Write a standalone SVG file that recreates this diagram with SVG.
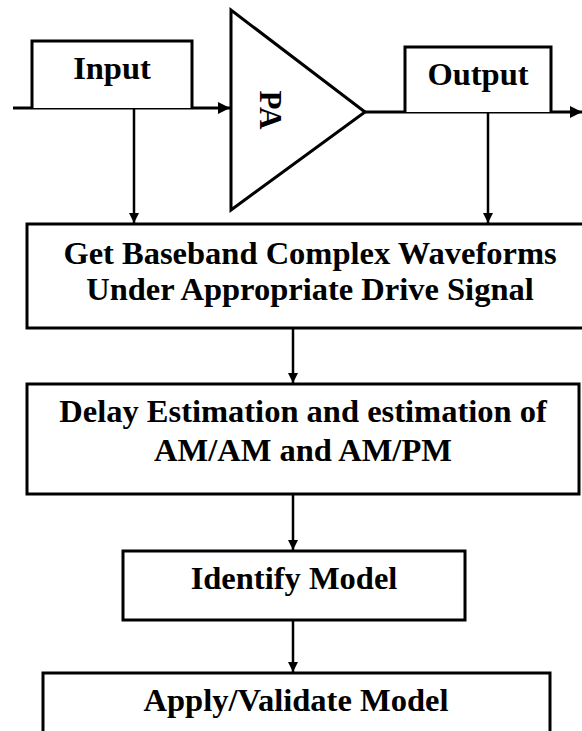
<svg xmlns="http://www.w3.org/2000/svg" width="582" height="731" viewBox="0 0 582 731">
  <style>
    .box { fill: #fff; stroke: #000; stroke-width: 3; }
    .wire { stroke: #000; stroke-width: 2.5; fill: none; }
    .lbl { font-family: "Liberation Serif", "Times New Roman", serif; font-weight: bold; font-size: 32.5px; fill: #000; text-anchor: middle; }
  </style>
  <defs>
    <marker id="arrow" viewBox="0 0 10 10" refX="10" refY="5" markerWidth="4" markerHeight="4" orient="auto" markerUnits="strokeWidth">
      <path d="M0,0 L10,5 L0,10 z" fill="#000"/>
    </marker>
  </defs>
  <rect width="582" height="731" fill="#fff"/>

  <!-- signal path and flow connectors -->
  <g id="connectors">
    <line class="wire" x1="13" y1="108" x2="230" y2="108" marker-end="url(#arrow)" style="stroke-width:3"/>
    <line class="wire" x1="365" y1="112" x2="582" y2="112" marker-end="url(#arrow)" style="stroke-width:3"/>
    <line class="wire" x1="134" y1="108" x2="134" y2="223" marker-end="url(#arrow)"/>
    <line class="wire" x1="488" y1="112" x2="488" y2="223" marker-end="url(#arrow)"/>
    <line class="wire" x1="293" y1="328" x2="293" y2="383" marker-end="url(#arrow)"/>
    <line class="wire" x1="293" y1="494" x2="293" y2="550" marker-end="url(#arrow)"/>
    <line class="wire" x1="293" y1="620" x2="293" y2="672" marker-end="url(#arrow)"/>
  </g>

  <g id="input">
    <path class="box" d="M32,108 V41 H192 V108"/>
    <text class="lbl" x="112" y="79">Input</text>
  </g>

  <g id="pa">
    <polygon class="box" points="231,10 231,210 365,112"/>
    <text class="lbl" transform="translate(260,110) rotate(90)" x="0" y="0" style="font-size:31px">PA</text>
  </g>

  <g id="output">
    <path class="box" d="M405,112 V47 H551 V112"/>
    <text class="lbl" x="478" y="85">Output</text>
  </g>

  <g id="capture">
    <rect class="box" x="27" y="224" width="570" height="104"/>
    <text class="lbl" x="310" y="264">Get Baseband Complex Waveforms</text>
    <text class="lbl" x="310" y="300">Under Appropriate Drive Signal</text>
  </g>

  <g id="estimate">
    <rect class="box" x="27" y="384" width="552" height="110"/>
    <text class="lbl" x="303" y="422">Delay Estimation and estimation of</text>
    <text class="lbl" x="303" y="461">AM/AM and AM/PM</text>
  </g>

  <g id="identify">
    <rect class="box" x="123" y="551" width="342" height="69"/>
    <text class="lbl" x="294" y="589">Identify Model</text>
  </g>

  <g id="apply">
    <rect class="box" x="43" y="673" width="507" height="80"/>
    <text class="lbl" x="296" y="711">Apply/Validate Model</text>
  </g>
</svg>
